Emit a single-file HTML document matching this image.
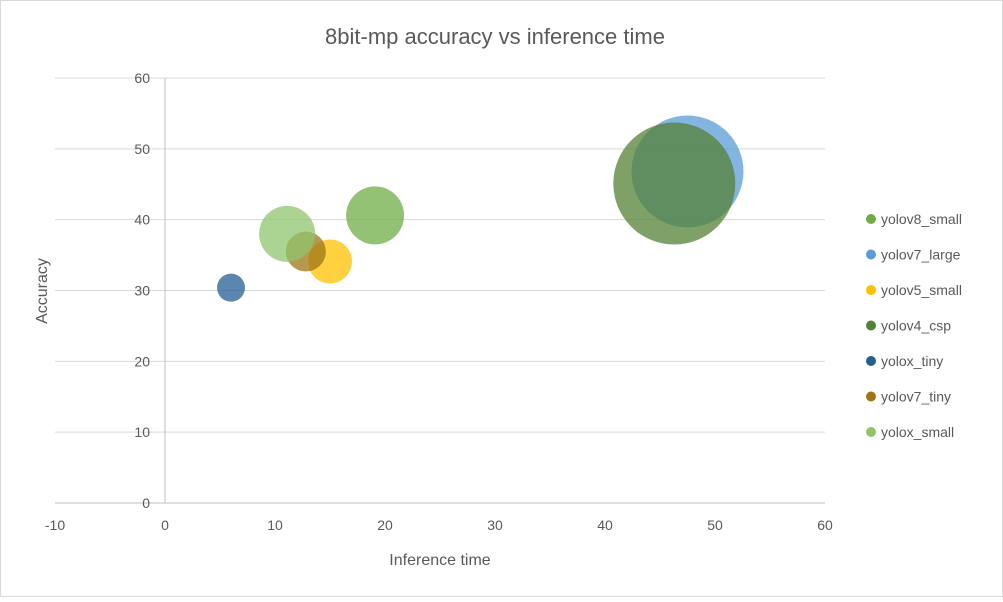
<!DOCTYPE html>
<html><head><meta charset="utf-8">
<style>
body{margin:0;background:#fff;font-family:"Liberation Sans",sans-serif;}
svg text{font-family:"Liberation Sans",sans-serif;fill:#595959;}
</style></head>
<body>
<svg id="chart" width="1003" height="597" xmlns="http://www.w3.org/2000/svg">
<rect x="0.5" y="0.5" width="1002" height="596" fill="#fff" stroke="#d9d9d9"/>
<text x="495" y="44" font-size="22" text-anchor="middle">8bit-mp accuracy vs inference time</text>
<g id="grid"></g>
<g id="bubbles"></g>
<g id="legend"></g>
<text x="440" y="565" font-size="16" text-anchor="middle">Inference time</text>
<text transform="translate(47,291) rotate(-90)" font-size="16" text-anchor="middle">Accuracy</text>
</svg>
<script>
const names=["yolov8_small","yolov7_large","yolov5_small","yolov4_csp","yolox_tiny","yolov7_tiny","yolox_small"];
const xs=[19.1,47.5,15.0,46.3,6.0,12.8,11.1];
const ys=[40.6,46.8,34.1,45.1,30.4,35.5,38.0];
const sizes=[29,56,22,61,14,20,28];
const colors=["#70ad47","#5b9bd5","#ffc000","#548235","#255e91","#9e7616","#8fc46c"];
const xTicks=[-10,0,10,20,30,40,50,60];
const yTicks=[0,10,20,30,40,50,60];
const NS="http://www.w3.org/2000/svg";
const X=v=>165+(v*11);
const Y=v=>503-(v*425/60);
function mk(t,a,p){const e=document.createElementNS(NS,t);for(const k in a)e.setAttribute(k,a[k]);p.appendChild(e);return e;}
const g=document.getElementById('grid');
yTicks.forEach(t=>{
 const l=mk('line',{x1:X(-10),x2:X(60),y1:Y(t),y2:Y(t),stroke:t===0?'#bfbfbf':'#d9d9d9'},g);
 
 
 const tx=mk('text',{x:150,y:Y(t)+5,'font-size':14,'text-anchor':'end'},g);tx.textContent=t;
 
 
});
const ax=mk('line',{x1:X(0),x2:X(0),y1:Y(60),y2:Y(0),stroke:'#bfbfbf'},g);


xTicks.forEach(t=>{
 const tx=mk('text',{x:X(t),y:530,'font-size':14,'text-anchor':'middle'},g);tx.textContent=t;
 
 
});
const b=document.getElementById('bubbles');
names.forEach((n,i)=>{
 const c=mk('circle',{cx:X(xs[i]),cy:Y(ys[i]),r:sizes[i],fill:colors[i],'fill-opacity':0.75},b);
 
 
});
const lg=document.getElementById('legend');
names.forEach((n,k)=>{
 const y=219+k*35.5;
 const c=mk('circle',{cx:871,cy:y,r:5,fill:colors[k]},lg);
 
 
 const t=mk('text',{x:881,y:y+5,'font-size':14},lg);t.textContent=n;
 
 
});
</script>
</body></html>
